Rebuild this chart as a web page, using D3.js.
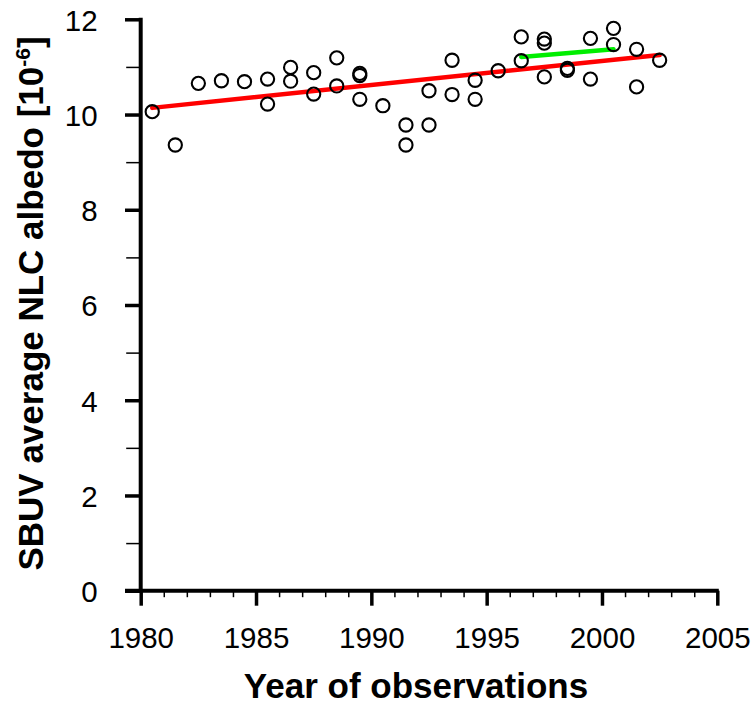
<!DOCTYPE html>
<html>
<head>
<meta charset="utf-8">
<script src="https://cdn.jsdelivr.net/npm/d3@7"></script>
<style>
  body { margin: 0; background: #ffffff; }
  text { font-family: "Liberation Sans", Arial, Helvetica, sans-serif; fill: #000; }
</style>
</head>
<body>
<div id="chart"></div>
<script>
const WIDTH = 756;
const HEIGHT = 704;

// plot area edges (pixels)
const LEFT = 140.7;
const RIGHT = 717.3;
const TOP = 19.3;
const BOTTOM = 590.7;

// data
const obsYears = [1980.5, 1981.5, 1982.5, 1983.5, 1984.5,
  1985.5, 1985.5, 1986.5, 1986.5, 1987.5, 1987.5, 1988.5, 1988.5,
  1989.5, 1989.5, 1989.5, 1990.5, 1991.5, 1991.5, 1992.5, 1992.5,
  1993.5, 1993.5, 1994.5, 1994.5, 1995.5, 1996.5, 1996.5,
  1997.5, 1997.5, 1997.5, 1998.5, 1998.5, 1999.5, 1999.5,
  2000.5, 2000.5, 2001.5, 2001.5, 2002.5];
const obsAlbedo = [10.06, 9.36, 10.655, 10.71, 10.69,
  10.745, 10.22, 10.99, 10.70, 10.88, 10.43, 11.19, 10.60,
  10.865, 10.82, 10.32, 10.185, 9.78, 9.36, 10.50, 9.78,
  11.14, 10.42, 10.72, 10.32, 10.92, 11.63, 11.13,
  11.585, 11.50, 10.79, 10.97, 10.93, 11.60, 10.745,
  11.81, 11.47, 11.37, 10.58, 11.14];

const trendYears = [1980.5, 2002.5];
const trendAlbedo = [10.14, 11.25];
const recentYears = [1996.5, 2000.5];
const recentAlbedo = [11.21, 11.37];

const xMajorTicks = [1980, 1985, 1990, 1995, 2000, 2005];
const yMajorTicks = [0, 2, 4, 6, 8, 10, 12];

const xScale = d3.scaleLinear().domain([1980, 2005]).range([LEFT, RIGHT]);
const yScale = d3.scaleLinear().domain([0, 12]).range([BOTTOM, TOP]);

const svg = d3.select("#chart")
  .append("svg")
  .attr("width", WIDTH)
  .attr("height", HEIGHT)
  .style("background-color", "#ffffff");

// minor ticks
const xMinor = d3.axisBottom(xScale).tickValues(d3.range(1980, 2006, 1)).tickSize(6.5).tickFormat("");
const yMinor = d3.axisLeft(yScale).tickValues(d3.range(1, 12, 2)).tickSize(14.5).tickFormat("");

svg.append("g")
  .attr("transform", "translate(0," + BOTTOM + ")")
  .call(xMinor)
  .call(g => g.select(".domain").remove())
  .selectAll("line").attr("stroke", "#000").attr("stroke-width", 1.5);

svg.append("g")
  .attr("transform", "translate(" + LEFT + ",0)")
  .call(yMinor)
  .call(g => g.select(".domain").remove())
  .selectAll("line").attr("stroke", "#000").attr("stroke-width", 1.5);

// major ticks + labels
const xAxis = d3.axisBottom(xScale).tickValues(xMajorTicks).tickSize(15).tickPadding(28).tickFormat(d3.format("d"));
const yAxis = d3.axisLeft(yScale).tickValues(yMajorTicks).tickSize(15.7).tickPadding(28).tickFormat(d3.format("d"));

const gx = svg.append("g")
  .attr("transform", "translate(0," + BOTTOM + ")")
  .call(xAxis);
gx.select(".domain").remove();
gx.selectAll("line").attr("stroke", "#000").attr("stroke-width", 3.5);
gx.selectAll("text")
  .attr("dy", 0)
  .attr("y", 57.6)
  .style("font-size", "29.5px")
  .style("font-family", "'Liberation Sans', Arial, sans-serif");

const gy = svg.append("g")
  .attr("transform", "translate(" + LEFT + ",0)")
  .call(yAxis);
gy.select(".domain").remove();
gy.selectAll("line").attr("stroke", "#000").attr("stroke-width", 3.5);
gy.selectAll("text")
  .attr("dy", 0)
  .attr("x", -43)
  .attr("y", 10.8)
  .style("font-size", "29.5px")
  .style("font-family", "'Liberation Sans', Arial, sans-serif");

// axis lines
svg.append("line")
  .attr("x1", LEFT).attr("x2", LEFT)
  .attr("y1", TOP - 1.5).attr("y2", BOTTOM)
  .attr("stroke", "#000").attr("stroke-width", 4);
svg.append("line")
  .attr("x1", LEFT - 15.7).attr("x2", RIGHT + 1.5)
  .attr("y1", BOTTOM).attr("y2", BOTTOM)
  .attr("stroke", "#000").attr("stroke-width", 4);

// trend lines
const line = d3.line().x(d => xScale(d[0])).y(d => yScale(d[1]));

svg.append("path")
  .datum(d3.zip(trendYears, trendAlbedo))
  .attr("d", line)
  .attr("fill", "none")
  .attr("stroke", "#ff0000")
  .attr("stroke-width", 4.5)
  .attr("stroke-linecap", "round");

svg.append("path")
  .datum(d3.zip(recentYears, recentAlbedo))
  .attr("d", line)
  .attr("fill", "none")
  .attr("stroke", "#00ee00")
  .attr("stroke-width", 4.5)
  .attr("stroke-linecap", "round");

// observations
svg.append("g")
  .selectAll("circle")
  .data(d3.zip(obsYears, obsAlbedo))
  .enter()
  .append("circle")
  .attr("cx", d => xScale(d[0]))
  .attr("cy", d => yScale(d[1]))
  .attr("r", 6.6)
  .attr("fill", "none")
  .attr("stroke", "#000")
  .attr("stroke-width", 2.1);

// axis titles
svg.append("text")
  .attr("x", 416)
  .attr("y", 698)
  .attr("text-anchor", "middle")
  .style("font-size", "35px")
  .style("font-weight", "bold")
  .text("Year of observations");

const yTitle = svg.append("text")
  .attr("transform", "translate(43,303.5) rotate(-90)")
  .attr("text-anchor", "middle")
  .style("font-size", "35px")
  .style("font-weight", "bold");
yTitle.append("tspan").text("SBUV average NLC albedo [10");
yTitle.append("tspan").attr("dy", -13).style("font-size", "21px").text("-6");
yTitle.append("tspan").attr("dy", 13).text("]");
</script>
</body>
</html>
